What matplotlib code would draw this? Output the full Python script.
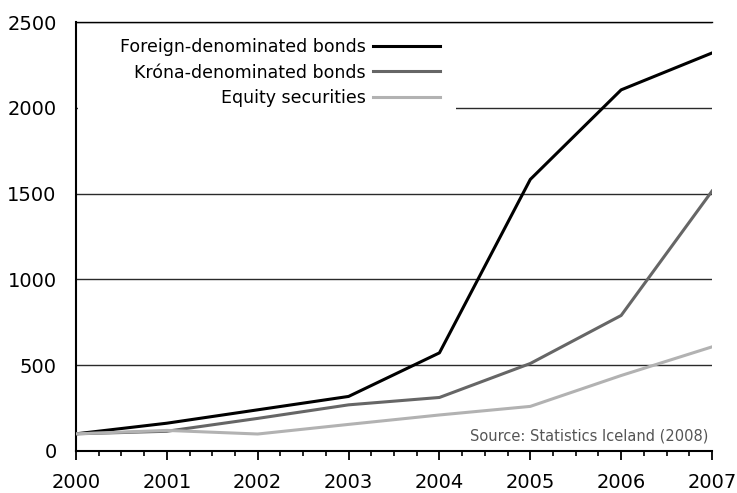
import matplotlib.pyplot as plt
from matplotlib.patches import Rectangle
from matplotlib.ticker import AutoMinorLocator

plt.rcParams['font.family'] = ['DejaVu Sans']

# Data for the plot
years = [2000, 2001, 2002, 2003, 2004, 2005, 2006, 2007]
foreign_bonds = [100, 162, 240, 318, 572, 1583, 2105, 2320]  # foreign-denominated bonds
krona_bonds = [100, 115, 190, 269, 312, 510, 790, 1515]  # króna-denominated bonds
equity = [100, 120, 99, 155, 210, 260, 440, 607]  # equity securities

fig = plt.figure(figsize=(7.37, 4.93), dpi=100)
ax = fig.add_axes([0.1031, 0.0852, 0.863, 0.870])

ax.plot(years, foreign_bonds, color='black', lw=2.2, label='Foreign-denominated bonds', zorder=3)
ax.plot(years, krona_bonds, color='#666666', lw=2.2, label='Króna-denominated bonds', zorder=3)
ax.plot(years, equity, color='#b2b2b2', lw=2.2, label='Equity securities', zorder=3)

ax.set_xlim(2000, 2007)
ax.set_ylim(0, 2500)
ax.set_yticks([0, 500, 1000, 1500, 2000, 2500])
ax.set_xticks(years)
ax.xaxis.set_minor_locator(AutoMinorLocator(4))

# gridlines
ax.grid(axis='y', color='#2a2a2a', lw=1)
ax.set_axisbelow(True)

ax.spines['right'].set_visible(False)
ax.spines['top'].set_linewidth(1)
ax.spines['left'].set_linewidth(1.5)
ax.spines['bottom'].set_linewidth(1.5)

ax.tick_params(axis='y', length=0, pad=14, labelsize=14)
ax.tick_params(axis='x', which='major', direction='out', length=6.5, width=1.3, pad=9, labelsize=14)
ax.tick_params(axis='x', which='minor', direction='out', length=3.5, width=1.2)

ax.text(0.994, 0.018, 'Source: Statistics Iceland (2008)', transform=ax.transAxes,
        ha='right', va='bottom', fontsize=10.5, color='#555555')

# white block behind the legend (hides the 2000 gridline up to the axis)
ax.add_patch(Rectangle((0.003, 0.78), 0.5945, 0.205, transform=ax.transAxes,
                       facecolor='white', edgecolor='none', zorder=1))

leg = ax.legend(loc='upper right', bbox_to_anchor=(0.5975, 1.0), markerfirst=False,
                fontsize=12.5, handlelength=3.9, labelspacing=0.45, frameon=False,
                borderaxespad=0.0, borderpad=0.9, handletextpad=0.4)

plt.savefig('out.png')
